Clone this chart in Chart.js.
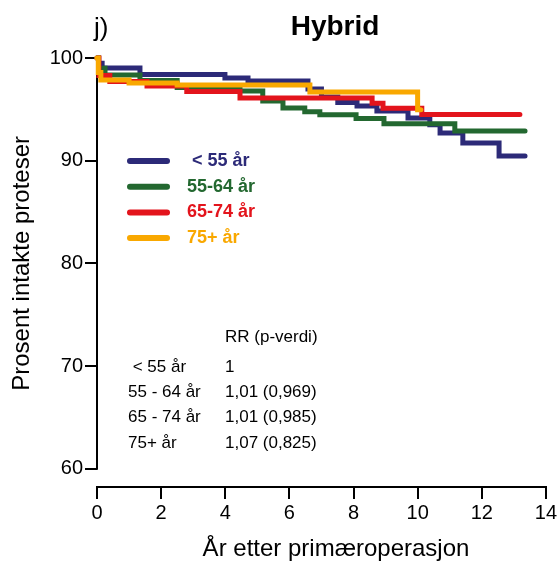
<!DOCTYPE html>
<html>
<head>
<meta charset="utf-8">
<script src="https://cdn.jsdelivr.net/npm/chart.js@4.4.1/dist/chart.umd.min.js"></script>
<style>
  html, body { margin: 0; padding: 0; background: #fff; }
  #wrap { width: 559px; height: 561px; }
</style>
</head>
<body>
<div id="wrap"><canvas id="chart" width="559" height="561"></canvas></div>
<script>
let groups = [" < 55 år", "55-64 år", "65-74 år", "75+ år"];
let colors = ["#2c2a78", "#236830", "#e3141c", "#f9a800"];

let tUnder55 = [0, 0.05, 0.16, 1.34, 3.99, 4.71, 6.58, 7.0, 7.51, 8.11, 8.73, 9.70, 10.38, 10.70, 11.41, 12.54, 13.35];
let sUnder55 = [100, 99.5, 99.03, 98.39, 98.05, 97.76, 96.98, 96.2, 95.67, 95.33, 94.84, 94.16, 93.5, 92.7, 91.72, 90.46, 90.46];

let t55to64 = [0, 0.05, 0.25, 1.34, 2.5, 4.46, 5.17, 5.8, 6.48, 6.95, 8.08, 8.95, 11.16, 13.35];
let s55to64 = [100, 99.0, 98.34, 97.81, 97.13, 96.79, 95.81, 95.13, 94.77, 94.48, 94.11, 93.60, 92.89, 92.89];

let t65to74 = [0, 0.06, 0.4, 1.56, 2.8, 4.46, 8.58, 8.92, 10.13, 13.19];
let s65to74 = [100, 98.3, 97.7, 97.27, 96.74, 96.1, 95.59, 95.10, 94.50, 94.50];

let t75plus = [0, 0.04, 0.12, 1.0, 2.5, 6.64, 10.0, 10.1];
let s75plus = [100, 98.6, 97.86, 97.57, 97.37, 96.69, 94.95, 94.95];

let xTicks = [0, 2, 4, 6, 8, 10, 12, 14];
let yTicks = [60, 70, 80, 90, 100];

let rrHeader = "RR (p-verdi)";
let rrGroups = [" < 55 år", "55 - 64 år", "65 - 74 år", "75+ år"];
let rrValues = ["1", "1,01 (0,969)", "1,01 (0,985)", "1,07 (0,825)"];

const FONT = "'Liberation Sans', Arial, Helvetica, sans-serif";
Chart.defaults.font.family = FONT;
Chart.defaults.color = "#000";

function points(ts, ss) {
  return ts.map((t, i) => ({ x: t, y: ss[i] }));
}

let series = [[tUnder55, sUnder55], [t55to64, s55to64], [t65to74, s65to74], [t75plus, s75plus]];

let datasets = series.map((s, i) => ({
  label: groups[i],
  data: points(s[0], s[1]),
  borderColor: colors[i],
  borderWidth: 5,
  stepped: true,
  pointRadius: 0,
  fill: false,
  clip: false,
  borderCapStyle: "round",
  order: 3 - i
}));

let extras = {
  id: "extras",
  beforeDatasetsDraw(chart) {
    let ctx = chart.ctx, y = chart.scales.y, a = chart.chartArea;
    ctx.save();
    ctx.strokeStyle = "#000";
    ctx.lineWidth = 2;
    ctx.beginPath();
    ctx.moveTo(a.left, y.getPixelForValue(yTicks[0]) + 1);
    ctx.lineTo(a.left, y.getPixelForValue(yTicks[yTicks.length - 1]) - 1);
    ctx.stroke();
    ctx.restore();
  },
  afterDraw(chart) {
    let ctx = chart.ctx, y = chart.scales.y;
    ctx.save();
    ctx.fillStyle = "#000";
    ctx.textBaseline = "middle";

    // titles
    ctx.font = "bold 28px " + FONT;
    ctx.textAlign = "center";
    ctx.fillText("Hybrid", 335, 27);
    ctx.font = "24px " + FONT;
    ctx.fillText("År etter primæroperasjon", 336, 549);
    ctx.font = "26px " + FONT;
    ctx.textAlign = "left";
    ctx.fillText("j)", 94, 29);

    // y axis title
    ctx.save();
    ctx.translate(22, (y.getPixelForValue(60) + y.getPixelForValue(100)) / 2);
    ctx.rotate(-Math.PI / 2);
    ctx.textAlign = "center";
    ctx.font = "24px " + FONT;
    ctx.fillText("Prosent intakte proteser", 0, 0);
    ctx.restore();

    // legend
    ctx.lineCap = "round";
    ctx.lineWidth = 6;
    ctx.font = "bold 18px " + FONT;
    groups.forEach((g, i) => {
      let ly = 161 + i * 25.7;
      ctx.strokeStyle = colors[i];
      ctx.beginPath();
      ctx.moveTo(130, ly);
      ctx.lineTo(167, ly);
      ctx.stroke();
      ctx.fillStyle = colors[i];
      ctx.fillText(g, 187, ly);
    });

    // RR table
    ctx.fillStyle = "#000";
    ctx.font = "17px " + FONT;
    ctx.fillText(rrHeader, 225, 337);
    rrGroups.forEach((g, i) => {
      let ry = 367 + i * 25.3;
      ctx.fillText(g, 128, ry);
      ctx.fillText(rrValues[i], 225, ry);
    });
    ctx.restore();
  }
};

new Chart(document.getElementById("chart"), {
  type: "line",
  data: { datasets: datasets },
  options: {
    responsive: false,
    animation: false,
    devicePixelRatio: 1,
    layout: { padding: { top: 58, right: 13, left: 0, bottom: 0 } },
    plugins: { legend: { display: false }, tooltip: { enabled: false } },
    scales: {
      x: {
        type: "linear",
        min: 0,
        max: 14,
        afterBuildTicks: s => { s.ticks = xTicks.map(v => ({ value: v })); },
        afterFit: s => { s.height = 74; },
        ticks: { font: { size: 20 }, padding: 2, maxRotation: 0 },
        grid: { drawOnChartArea: false, tickLength: 12, color: "#000", lineWidth: 2 },
        border: { display: true, color: "#000", width: 2 }
      },
      y: {
        min: 58.23,
        max: 100,
        afterBuildTicks: s => { s.ticks = yTicks.map(v => ({ value: v })); },
        afterFit: s => { s.width = 97; },
        ticks: { font: { size: 20 }, padding: 2 },
        grid: { drawOnChartArea: false, tickLength: 12, color: "#000", lineWidth: 2 },
        border: { display: false }
      }
    }
  },
  plugins: [extras]
});
</script>
</body>
</html>
